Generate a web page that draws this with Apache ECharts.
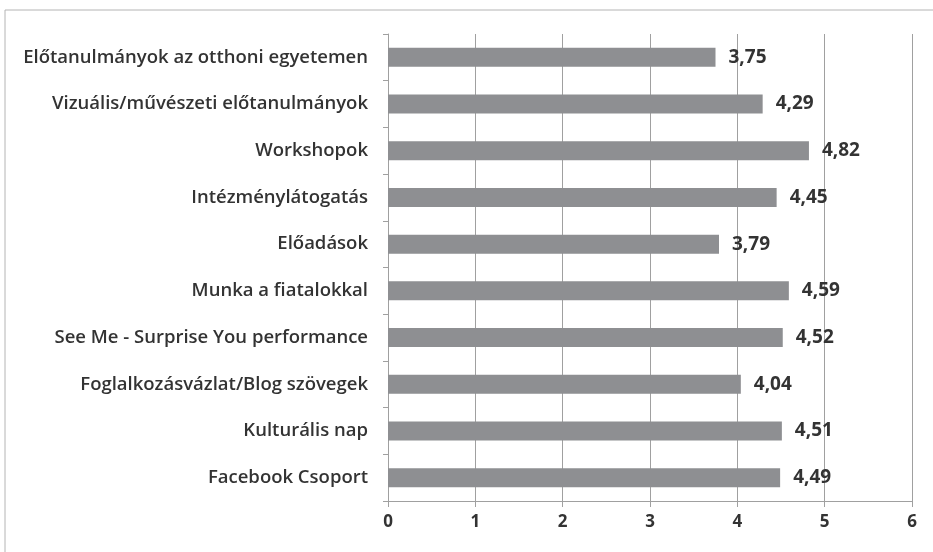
<!DOCTYPE html>
<html><head><meta charset="utf-8">
<script src="https://cdn.jsdelivr.net/npm/echarts@6/dist/echarts.min.js"></script>
<style>html,body{margin:0;padding:0;background:#fff}#c{width:933px;height:552px}</style>
</head><body><div id="c"></div>
<script>
const categories = ["Előtanulmányok az otthoni egyetemen","Vizuális/művészeti előtanulmányok","Workshopok","Intézménylátogatás","Előadások","Munka a fiatalokkal","See Me - Surprise You performance","Foglalkozásvázlat/Blog szövegek","Kulturális nap","Facebook Csoport"];
const values = [3.75,4.29,4.82,4.45,3.79,4.59,4.52,4.04,4.51,4.49];
const xTicks = [0,1,2,3,4,5,6];

const chart = echarts.init(document.getElementById('c'), null, {renderer:'canvas'});
chart.setOption({
  animation:false,
  backgroundColor:'#fff',
  graphic:[{type:'polyline',shape:{points:[[5,552],[5,10],[933,10]]},style:{stroke:'#b4b4b4',lineWidth:1,fill:null}}],
  grid:{left:388,right:21,top:34,bottom:51,containLabel:false},
  xAxis:{type:'value',min:xTicks[0],max:xTicks[xTicks.length-1],interval:1,
    axisLine:{show:true,lineStyle:{color:'#a0a0a0'}},
    axisTick:{show:true,length:6,lineStyle:{color:'#a0a0a0'}},
    splitLine:{show:true,lineStyle:{color:'#a0a0a0'}},
    axisLabel:{color:'#333',fontFamily:'Open Sans',fontWeight:'bold',fontSize:17,margin:13}},
  yAxis:{type:'category',data:categories,inverse:true,
    axisLine:{show:true,lineStyle:{color:'#a0a0a0'}},
    axisTick:{show:true,length:5,lineStyle:{color:'#a0a0a0'}},
    axisLabel:{color:'#333',fontFamily:'Open Sans',fontWeight:600,fontSize:18.5,margin:20}},
  series:[{type:'bar',data:values,barWidth:19,itemStyle:{color:'#8e8f92'},
    label:{show:true,position:'right',distance:13,color:'#333',fontFamily:'Open Sans',fontWeight:'bold',fontSize:19,
      formatter:p=>p.value.toFixed(2).replace('.',',')}}]
});
</script></body></html>
